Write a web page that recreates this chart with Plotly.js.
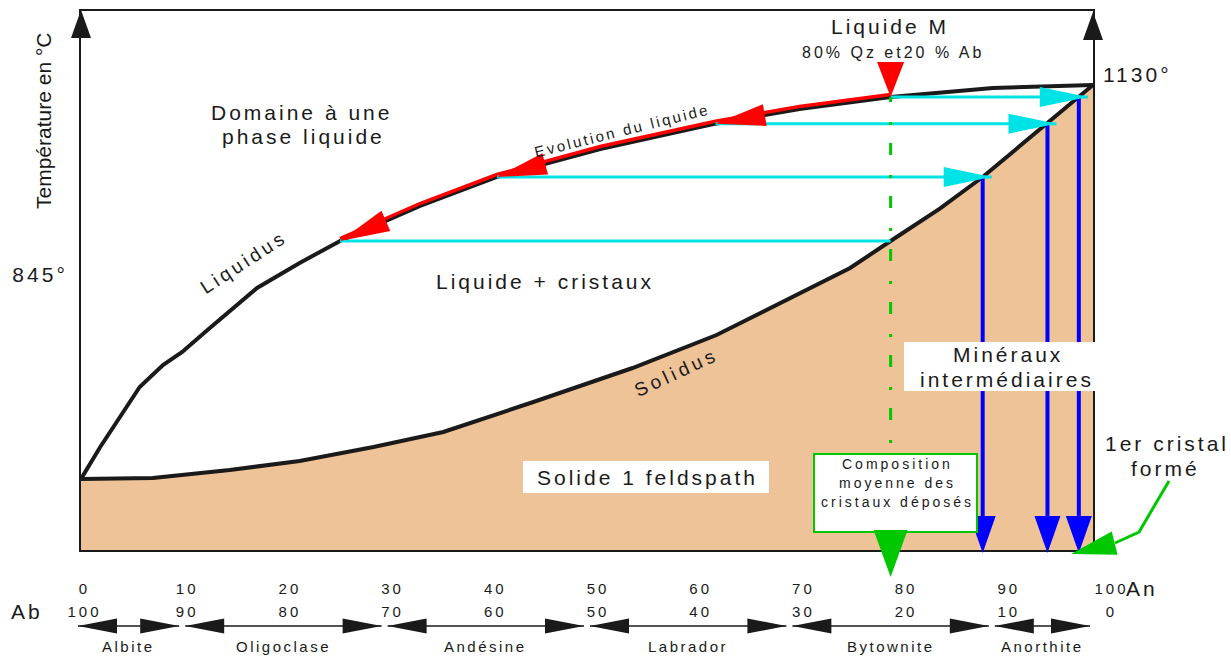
<!DOCTYPE html>
<html><head><meta charset="utf-8">
<script src="https://cdn.plot.ly/plotly-3.0.1.min.js"></script>
<style>html,body{margin:0;padding:0;background:#fff;} #chart{width:1231px;height:657px;}</style>
</head><body><div id="chart"></div>
<script>
// ---------------- data ----------------
const liquidusAn = [0, 1.9, 4.5, 5.8, 8.1, 10.0, 12.5, 17.4, 21.6, 25.6, 33.5, 41.1, 51.3, 62.7, 71.0, 80, 90.1, 100];
const liquidusT  = [539, 587, 647, 677, 710, 729.5, 762.5, 825.5, 863, 896, 948.5, 992, 1034, 1072, 1094, 1112, 1125.5, 1130];
const solidusAn  = [0, 7.1, 14.7, 21.6, 28.9, 35.8, 44.7, 54.5, 62.8, 71.0, 76.0, 80, 84.9, 89.1, 95.5, 98.6, 100];
const solidusT   = [539, 540.5, 552.5, 566, 587, 609.5, 654.5, 705.5, 755, 818, 855.5, 896, 945, 992, 1072, 1112, 1130];
// tie lines (liquid -> crystals) at successive temperatures
const tieT        = [1112, 1072, 992, 896];
const tieLiquidAn = [80, 62.7, 41.1, 25.6];
const tieSolidAn  = [98.6, 95.5, 89.1, 80];
const liquidM_An  = 80;
const anTicks      = [0, 10, 20, 30, 40, 50, 60, 70, 80, 90, 100];
const anTickLabels = ['0', '10', '20', '30', '40', '50', '60', '70', '80', '90', '100'];
const abTickLabels = ['100', '90', '80', '70', '60', '50', '40', '30', '20', '10', '0'];
const tempTickLeft  = [845];
const tempTickRight = [1130];
const mineralNames  = ['Albite', 'Oligoclase', 'Andésine', 'Labrador', 'Bytownite', 'Anorthite'];
const mineralBounds = [0, 10, 30, 50, 70, 90, 100];

// ---------------- layout geometry ----------------
const W = 1231, H = 657;
const X0 = 81, X1 = 1093, Y0 = 550, Y1 = 11;
const T_MIN = 432.5, T_MAX = 1241;
const FONT = 'Liberation Sans, Arial, sans-serif';
const INK = '#1a1a1a';
const TAN = '#eec398', CYAN = '#00e3e6', RED = '#ff0000', BLUE = '#0000ff', GREEN = '#00c800';
const px = a => X0 + a / 100 * (X1 - X0);
const py = t => Y0 - (t - T_MIN) / (T_MAX - T_MIN) * (Y0 - Y1);
const tOfPy = y => T_MIN + (Y0 - y) / (Y0 - Y1) * (T_MAX - T_MIN);
const anPerPx = 100 / (X1 - X0), tPerPx = (T_MAX - T_MIN) / (Y0 - Y1);
const fx = x => x / W, fy = y => 1 - y / H;
const ls = (s, sp) => `<span style="letter-spacing:${sp}px">${s}</span>`;

function head(tip, from, len, hw, color) {
  const dx = tip[0] - from[0], dy = tip[1] - from[1], d = Math.hypot(dx, dy);
  const ux = dx / d, uy = dy / d;
  const bx = tip[0] - ux * len, by = tip[1] - uy * len;
  const a = [bx - uy * hw, by + ux * hw], b = [bx + uy * hw, by - ux * hw];
  return {type: 'path', xref: 'paper', yref: 'paper', layer: 'above',
    path: `M${fx(tip[0])},${fy(tip[1])}L${fx(a[0])},${fy(a[1])}L${fx(b[0])},${fy(b[1])}Z`,
    fillcolor: color, line: {width: 0}};
}
function rect(x0, y0, x1, y1, fill, lineColor, lw) {
  return {type: 'rect', xref: 'paper', yref: 'paper', layer: 'above',
    x0: fx(x0), x1: fx(x1), y0: fy(y1), y1: fy(y0), fillcolor: fill,
    line: {color: lineColor || fill, width: lw || 0}};
}
function lineShape(x0, y0, x1, y1, color, w) {
  return {type: 'line', xref: 'paper', yref: 'paper', layer: 'above',
    x0: fx(x0), y0: fy(y0), x1: fx(x1), y1: fy(y1), line: {color: color, width: w}};
}
function txt(text, x, y, size, opts) {
  return Object.assign({xref: 'paper', yref: 'paper', x: fx(x), y: fy(y), text: text,
    showarrow: false, xanchor: 'center', yanchor: 'middle',
    font: {family: FONT, size: size, color: INK}}, opts || {});
}

// ---------------- traces ----------------
const traces = [];
traces.push({x: solidusAn.concat([100, 0]), y: solidusT.concat([T_MIN, T_MIN]), fill: 'toself',
  fillcolor: TAN, mode: 'lines', line: {width: 0}, hoverinfo: 'skip'});
traces.push({x: solidusAn, y: solidusT, mode: 'lines', line: {color: INK, width: 4}});
traces.push({x: liquidusAn, y: liquidusT, mode: 'lines', line: {color: INK, width: 4}});
// evolution of the liquid (red, just above the liquidus)
const redX = [], redY = [];
liquidusAn.forEach((a, i) => { if (a >= tieLiquidAn[3] && a <= liquidM_An) { redX.push(a); redY.push(liquidusT[i] + 2.5 * tPerPx); } });
traces.push({x: redX, y: redY, mode: 'lines', line: {color: RED, width: 3.5}});
// tie lines
const OVER = 9; // arrow tip overshoot past the solidus, px
tieT.forEach((t, i) => {
  const end = i < 3 ? tieSolidAn[i] + OVER * anPerPx : tieSolidAn[i];
  traces.push({x: [tieLiquidAn[i], end], y: [t, t], mode: 'lines', line: {color: CYAN, width: 3}});
});
// crystals deposited (blue)
for (let i = 0; i < 3; i++) {
  traces.push({x: [tieSolidAn[i], tieSolidAn[i]], y: [tieT[i], T_MIN + 12 * tPerPx], mode: 'lines', line: {color: BLUE, width: 4}});
}
// average composition (green dash-dot)
const BOX_TOP = 453;
traces.push({x: [liquidM_An, liquidM_An], y: [tieT[0], tOfPy(BOX_TOP)], mode: 'lines',
  line: {color: GREEN, width: 3, dash: '5px,20px,3px,18px,7px,0px'}});
// dummy traces for the tick-label axes
traces.push({x: [0, 100], y: [T_MIN, T_MIN], xaxis: 'x2', yaxis: 'y', mode: 'markers', marker: {opacity: 0}, hoverinfo: 'skip'});
traces.push({x: [0, 100], y: [T_MIN, T_MIN], xaxis: 'x3', yaxis: 'y', mode: 'markers', marker: {opacity: 0}, hoverinfo: 'skip'});
traces.push({x: [0, 100], y: [T_MIN, T_MAX], xaxis: 'x', yaxis: 'y2', mode: 'markers', marker: {opacity: 0}, hoverinfo: 'skip'});
traces.forEach(t => { t.showlegend = false; if (!t.hoverinfo) t.hoverinfo = 'skip'; });

// ---------------- shapes ----------------
const shapes = [];
// axis arrows
shapes.push(head([X0, Y1 - 1], [X0, Y1 + 60], 28, 10, INK));
shapes.push(head([X1, Y1 + 1], [X1, Y1 + 60], 28, 10, INK));
// Liquide M marker
const M = [px(liquidM_An), py(tieT[0])];
shapes.push(head(M, [M[0], M[1] - 60], 35, 13.5, RED));
// red evolution arrowheads
for (let i = 1; i < 4; i++) {
  const j = liquidusAn.indexOf(tieLiquidAn[i]);
  const tip = [px(tieLiquidAn[i]), py(tieT[i])];
  const from = [px(liquidusAn[j + 1]), py(liquidusT[j + 1])];
  shapes.push(head(tip, from, 50, 11, RED));
}
// cyan arrowheads
for (let i = 0; i < 3; i++) {
  const y = py(tieT[i]);
  shapes.push(head([px(tieSolidAn[i]) + OVER, y], [px(tieLiquidAn[i]), y], 48, 10, CYAN));
}
// blue arrowheads
for (let i = 0; i < 3; i++) {
  const x = px(tieSolidAn[i]);
  shapes.push(head([x, Y0 + 3], [x, Y0 - 100], 37, 13, BLUE));
}
// white label boxes
shapes.push(rect(523, 461, 769, 493, '#ffffff'));
shapes.push(rect(904, 342, 1098, 391, '#ffffff'));
shapes.push(rect(814, 454, 977, 532, '#ffffff', GREEN, 2));
// composition arrow
shapes.push(head([px(liquidM_An), 577], [px(liquidM_An), 480], 47, 17, GREEN));
// "1er cristal formé" pointer
const ptr = [[1169, 481], [1139, 532], [1115, 543]];
shapes.push({type: 'path', xref: 'paper', yref: 'paper', layer: 'above',
  path: 'M' + ptr.map(p => `${fx(p[0])},${fy(p[1])}`).join('L'), line: {color: GREEN, width: 3}});
shapes.push(head([1071, 554], ptr[2], 45, 12, GREEN));
// mineral ranges row
const ROW = 626, GAP = 3;
const annotations = [];
for (let i = 0; i < mineralNames.length; i++) {
  const L = px(mineralBounds[i]) + GAP - (i === 0 ? 6 : 0), R = px(mineralBounds[i + 1]) - GAP;
  shapes.push(lineShape(L, ROW, R, ROW, INK, 1.5));
  shapes.push(head([L, ROW], [R, ROW], 39, 7.5, INK));
  shapes.push(head([R, ROW], [L, ROW], 39, 7.5, INK));
  annotations.push(txt(ls(mineralNames[i], 2.5), (L + R) / 2, 646, 15));
}

// ---------------- texts ----------------
annotations.push(
  txt('Température en °C', 43, 121, 21, {textangle: -90}),
  txt(ls('Liquide M', 3), 890, 27, 21),
  txt(ls('80% Qz et20 % Ab', 3), 893, 52, 16),
  txt(ls('Domaine à une', 3), 301, 112, 21),
  txt(ls('phase liquide', 3), 303, 136, 21),
  txt(ls('Liquide + cristaux', 3), 545, 281, 21),
  txt(ls('Solide 1 feldspath', 3), 647, 477, 21),
  txt(ls('Minéraux', 3), 1008, 354, 21),
  txt(ls('intermédiaires', 3), 1007, 379, 21),
  txt(ls('1er cristal', 3), 1167, 443, 21),
  txt(ls('formé', 3), 1165, 468, 21),
  txt(ls('Composition', 3), 897, 464, 14),
  txt(ls('moyenne des', 3), 897, 483, 14),
  txt(ls('cristaux déposés', 3), 897, 502, 14),
  txt(ls('Liquidus', 3.5), 243, 262, 19, {textangle: -33}),
  txt(ls('Solidus', 4), 676, 372, 19, {textangle: -25}),
  txt(ls('Evolution du liquide', 2.5), 622, 130, 15, {textangle: -14}),
  txt(ls('Ab', 3), 27, 611, 21),
  txt(ls('An', 3), 1142, 588, 21)
);

// ---------------- layout ----------------
const tickAxis = (labels, posPy) => ({
  domain: [fx(84.5), fx(1111.5)], range: [0, 100], anchor: 'free', position: fy(posPy),
  showgrid: false, zeroline: false, showline: false, ticks: '', fixedrange: true,
  tickmode: 'array', tickvals: anTicks, ticktext: labels.map(s => ls(s, 3)),
  tickfont: {family: FONT, size: 15, color: INK}
});
const layout = {
  width: W, height: H, margin: {l: 0, r: 0, t: 0, b: 0, pad: 0},
  paper_bgcolor: '#ffffff', plot_bgcolor: 'rgba(0,0,0,0)', showlegend: false, hovermode: false,
  font: {family: FONT, color: INK},
  xaxis: {domain: [fx(X0), fx(X1)], range: [0, 100], showgrid: false, zeroline: false,
    showticklabels: false, ticks: '', showline: true, mirror: true, linecolor: INK, linewidth: 2},
  yaxis: {domain: [fy(Y0), fy(Y1)], range: [T_MIN, T_MAX], showgrid: false, zeroline: false,
    ticks: '', showline: true, mirror: true, linecolor: INK, linewidth: 2,
    tickmode: 'array', tickvals: tempTickLeft, ticktext: tempTickLeft.map(v => ls(v + '°', 3)),
    tickfont: {family: FONT, size: 21, color: INK}, ticklabelstandoff: 7},
  yaxis2: {overlaying: 'y', side: 'right', anchor: 'x', range: [T_MIN, T_MAX], showgrid: false,
    zeroline: false, showline: false, ticks: '', tickmode: 'array', tickvals: tempTickRight,
    ticktext: tempTickRight.map(v => ls(v + '°', 3)), tickfont: {family: FONT, size: 21, color: INK},
    ticklabelstandoff: 9, ticklabelshift: -10},
  xaxis2: tickAxis(anTickLabels, 578),
  xaxis3: tickAxis(abTickLabels, 601),
  shapes: shapes, annotations: annotations
};
Plotly.newPlot('chart', traces, layout, {staticPlot: true, displayModeBar: false});
</script></body></html>
